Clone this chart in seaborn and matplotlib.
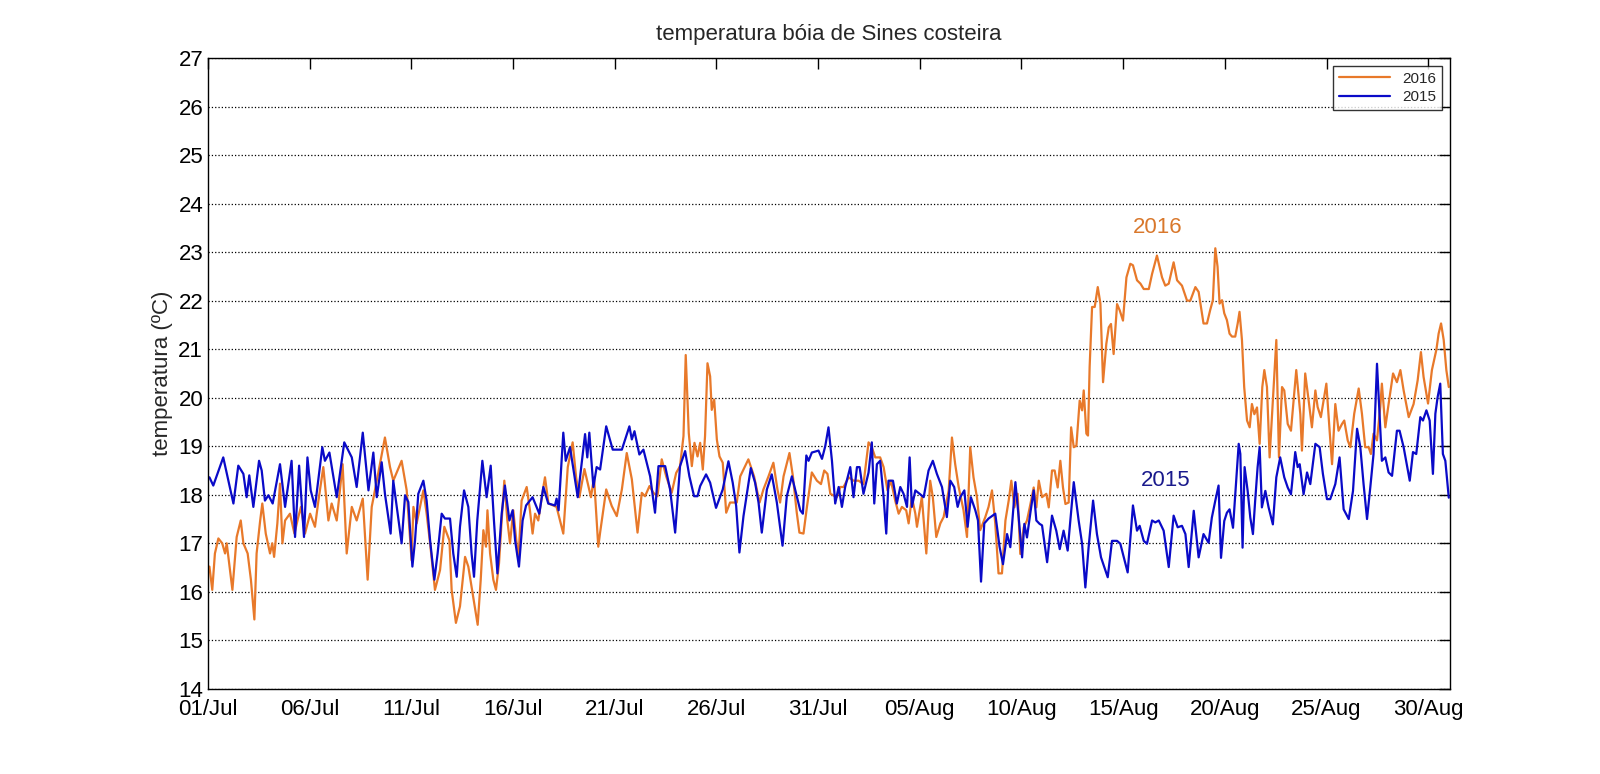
import numpy as np
import pandas as pd
import matplotlib
matplotlib.use("Agg")
import matplotlib.pyplot as plt
import matplotlib.dates as mdates
import seaborn as sns

# days since 01/Jul and temperature (ºC)
dias_2016 = [0.07, 0.21, 0.34, 0.51, 0.70, 0.84, 0.92, 1.20, 1.41, 1.61, 1.74, 1.95, 2.11, 2.28, 2.39,
             2.56, 2.67, 2.84, 3.05, 3.16, 3.25, 3.41, 3.54, 3.66, 3.79, 4.03, 4.25, 4.44, 4.57, 4.77,
             5.02, 5.26, 5.43, 5.67, 5.92, 6.08, 6.33, 6.62, 6.82, 7.07, 7.31, 7.61, 7.85, 8.05, 8.30,
             8.70, 8.95, 9.11, 9.52,
             9.77, 10.01, 10.10, 10.26, 10.59, 10.75, 10.92, 11.16, 11.41, 11.62, 11.87, 11.98, 12.19,
             12.39, 12.64, 12.80, 13.01, 13.26, 13.41, 13.54, 13.67, 13.74, 13.87, 14.03, 14.16, 14.31,
             14.44, 14.57, 14.72, 14.85, 15.01, 15.26, 15.42, 15.67, 15.83, 15.96, 16.08, 16.24, 16.49,
             16.57, 16.74, 17.14, 17.47, 17.69, 17.93, 18.10, 18.26, 18.51, 18.83, 18.98, 19.19,
             19.28, 19.58, 19.85, 20.10, 20.35, 20.59, 20.84, 21.12, 21.33, 21.49, 21.71, 21.90, 22.10,
             22.31, 22.53, 22.80, 23.02, 23.21, 23.38, 23.49, 23.57, 23.64, 23.79, 23.92, 24.07, 24.20,
             24.33, 24.44, 24.56, 24.69, 24.77, 24.89, 25.02, 25.15, 25.31, 25.48, 25.67, 26.00, 26.17,
             26.57, 26.85, 27.12, 27.31, 27.56, 27.80, 28.00, 28.13, 28.30, 28.59, 28.76, 28.95, 29.08,
             29.28, 29.45, 29.69, 29.94, 30.14, 30.30, 30.46, 30.60, 30.92, 31.09, 31.25, 31.50, 31.74,
             31.99, 32.23, 32.48, 32.64, 32.81, 33.05, 33.22, 33.41, 33.58, 33.79, 33.96, 34.12, 34.33,
             34.45, 34.61, 34.78, 34.86, 35.10, 35.32, 35.51, 35.64, 35.81, 36.01, 36.17, 36.42, 36.58,
             36.74, 36.91, 37.15, 37.32, 37.48, 37.64, 37.81, 37.97, 38.22, 38.38, 38.55, 38.71, 38.87,
             39.04, 39.21, 39.37, 39.50, 39.65, 39.81, 39.94, 40.11, 40.27, 40.44, 40.60, 40.73, 40.85,
             41.01, 41.22, 41.34, 41.50, 41.63, 41.78, 41.91, 42.04, 42.16, 42.32, 42.44, 42.57, 42.70,
             42.86, 42.98, 43.06, 43.19, 43.27, 43.35, 43.47, 43.60, 43.75, 43.88, 44.01, 44.17, 44.29,
             44.40, 44.53, 44.70, 44.83, 44.99, 45.16, 45.35, 45.48, 45.68, 45.85, 46.01, 46.26, 46.42,
             46.66, 46.91, 47.07, 47.24, 47.48, 47.65, 47.89, 48.14, 48.30, 48.55, 48.71,
             48.95, 49.12, 49.28, 49.41, 49.53, 49.64, 49.74, 49.86, 49.97, 50.10, 50.23, 50.35, 50.51,
             50.63, 50.72, 50.84, 50.95, 51.09, 51.22, 51.33, 51.45, 51.58, 51.71, 51.84, 51.94, 52.07,
             52.20, 52.36, 52.53, 52.66, 52.81, 52.92, 53.09, 53.25, 53.51, 53.71, 53.79, 53.95, 54.12,
             54.28, 54.45, 54.56, 54.72, 54.99, 55.15, 55.27, 55.43, 55.59, 55.76, 55.87, 56.04, 56.17,
             56.36, 56.58, 56.74, 56.90, 57.07, 57.18, 57.31, 57.48, 57.64, 57.72, 57.89, 58.05, 58.27,
             58.46, 58.63, 58.79, 59.04, 59.28, 59.48, 59.64, 59.77, 59.99, 60.18, 60.40, 60.51, 60.63,
             60.76, 60.89, 61.01]
temp_2016 = [16.52, 16.04, 16.79, 17.10, 17.00, 16.79, 17.00, 16.04, 17.13, 17.47, 17.00, 16.79, 16.25, 15.43, 16.79,
             17.45, 17.82, 17.20, 16.79, 17.00, 16.72, 17.41, 18.23, 17.00, 17.47, 17.61, 17.20, 17.54, 17.75, 17.20,
             17.61, 17.34, 17.88, 18.57, 17.47, 17.82, 17.47, 18.63, 16.79, 17.75, 17.47, 17.92, 16.25, 17.75, 18.29,
             19.18, 18.57, 18.29, 18.70,
             18.09, 16.65, 17.75, 17.41, 18.09, 17.61, 17.00, 16.04, 16.45, 17.34, 17.06, 16.04, 15.36,
             15.70, 16.72, 16.52, 15.97, 15.32, 16.25, 17.27, 16.93, 17.68, 16.79, 16.25, 16.04, 16.59,
             17.47, 18.29, 17.47, 17.00, 17.68, 16.65, 17.88, 18.16, 17.68, 17.20, 17.61, 17.47, 18.16,
             18.36, 17.82, 17.75, 17.20, 18.57, 19.08, 18.36, 17.95, 18.53, 17.95, 18.36, 16.93,
             17.22, 18.11, 17.77, 17.56, 18.11, 18.86, 18.32, 17.22, 18.04, 17.97, 18.18, 18.04, 17.97,
             18.73, 18.38, 18.04, 18.45, 18.59, 19.21, 20.88, 20.03, 19.27, 18.59, 19.07, 18.79, 19.07,
             18.52, 19.21, 20.71, 20.44, 19.75, 19.96, 19.14, 18.79, 18.66, 17.63, 17.84, 17.84, 18.38,
             18.73, 18.38, 17.84, 18.11, 18.38, 18.66, 18.11, 17.84, 18.38, 18.86, 18.38, 17.63, 17.22,
             17.20, 17.75, 18.46, 18.29, 18.22, 18.50, 18.43, 18.02, 17.95, 18.16, 18.16, 18.36, 18.29,
             18.29, 18.22, 19.08, 18.98, 18.77, 18.77, 18.57, 18.09, 18.29, 17.88, 17.61, 17.75, 17.68,
             17.41, 17.95, 17.61, 17.34, 17.95, 16.79, 18.29, 17.95, 17.13, 17.41, 17.54, 18.09, 19.18,
             18.63, 18.16, 17.68, 17.13, 18.98, 18.36, 17.95, 17.27, 17.54, 17.75, 18.09, 17.41, 16.38,
             16.38, 17.47, 17.88, 18.29, 17.74, 18.02, 16.78, 17.33, 17.47, 17.81, 18.15, 17.74, 18.29,
             17.95, 18.02, 17.74, 18.50, 18.50, 18.15, 18.70, 18.15, 17.81, 17.84, 19.39, 18.98, 19.01,
             19.94, 19.74, 20.15, 19.26, 19.22, 20.63, 21.87, 21.87, 22.28, 21.94, 20.32, 21.11, 21.45,
             21.52, 20.90, 21.93, 21.80, 21.59, 22.48, 22.76, 22.73, 22.42, 22.35, 22.24, 22.24, 22.55,
             22.93, 22.48, 22.31, 22.35, 22.79, 22.42, 22.31, 22.00, 22.00, 22.28, 22.18,
             21.53, 21.53, 21.81, 22.01, 23.08, 22.70, 21.94, 22.01, 21.74, 21.60, 21.32, 21.26, 21.26,
             21.53, 21.77, 21.19, 20.22, 19.53, 19.39, 19.87, 19.66, 19.80, 19.05, 20.22, 20.57, 20.22,
             18.77, 19.94, 21.19, 18.77, 20.22, 20.15, 19.46, 19.32, 20.57, 19.66, 18.91, 20.50, 19.94,
             19.39, 20.15, 19.81, 19.60, 20.29, 19.32, 18.63, 19.87, 19.32, 19.46, 19.53, 19.12, 18.98,
             19.67, 20.19, 19.67, 18.98, 18.98, 18.84, 19.26, 19.12, 19.81, 20.29, 19.39, 19.87, 20.50,
             20.32, 20.57, 20.15, 19.60, 19.87, 20.36, 20.94, 20.43, 19.88, 20.57, 20.99, 21.32, 21.53,
             21.19, 20.57, 20.22]

dias_2015 = [0.07, 0.26, 0.75, 1.25, 1.49, 1.74, 1.90, 2.03, 2.23, 2.51, 2.64, 2.80, 2.97, 3.18, 3.54,
             3.79, 4.11, 4.28, 4.48, 4.72, 4.89, 5.05, 5.26, 5.62, 5.75, 5.97, 6.33, 6.70, 7.07, 7.31,
             7.61, 7.89, 8.13, 8.30, 8.54, 8.70, 8.98, 9.11, 9.52, 9.69, 9.85, 10.05,
             10.18, 10.34, 10.59, 10.75, 10.92, 11.13, 11.29, 11.49, 11.65, 11.90, 12.06, 12.23, 12.39,
             12.59, 12.80, 12.96, 13.08, 13.24, 13.49, 13.70, 13.90, 14.06, 14.23, 14.44, 14.60, 14.82,
             14.98, 15.10, 15.29, 15.47, 15.64, 15.96, 16.29, 16.49, 16.73, 17.06, 17.14, 17.24, 17.47,
             17.59, 17.80, 17.93, 18.18, 18.33, 18.54, 18.65, 18.75, 18.95, 19.11,
             19.28, 19.58, 19.90, 20.35, 20.72, 20.84, 20.97, 21.21, 21.41, 21.74, 21.98, 22.15, 22.48,
             22.72, 22.97, 23.21, 23.46, 23.67, 23.90, 24.07, 24.20, 24.49, 24.69, 24.98, 25.31, 25.59,
             25.80, 25.97, 26.13, 26.33, 26.69, 26.90, 27.07, 27.23, 27.48, 27.72, 27.97, 28.25, 28.46,
             28.71, 28.95,
             29.12, 29.25, 29.42, 29.53, 29.69, 30.02, 30.19, 30.35, 30.51, 30.68, 30.84, 31.01, 31.17,
             31.33, 31.58, 31.74, 31.91, 32.04, 32.23, 32.48, 32.64, 32.76, 32.89, 33.05, 33.22, 33.35,
             33.46, 33.68, 33.87, 34.04, 34.20, 34.37, 34.50, 34.61, 34.78, 34.99, 35.19, 35.43, 35.64,
             35.84, 36.09, 36.33, 36.50, 36.69, 36.86, 36.99, 37.19, 37.35, 37.51, 37.73, 37.86, 38.01,
             38.17, 38.38, 38.71, 38.92,
             39.09, 39.29, 39.45, 39.70, 39.86, 40.03, 40.14, 40.27, 40.44, 40.60, 40.73, 40.89, 41.01,
             41.26, 41.50, 41.71, 41.88, 42.07, 42.27, 42.57, 42.81, 42.98, 43.14, 43.30, 43.52, 43.71,
             43.91, 44.24, 44.45, 44.70, 44.86, 45.03, 45.22, 45.48, 45.68, 45.81, 46.01, 46.17, 46.42,
             46.58, 46.75, 46.99, 47.24, 47.48, 47.68, 47.89, 48.06, 48.22, 48.47, 48.71,
             48.95, 49.20, 49.36, 49.53, 49.69, 49.81, 49.97, 50.10, 50.23, 50.40, 50.51, 50.68, 50.76,
             50.87, 50.97, 51.12, 51.25, 51.38, 51.49, 51.61, 51.71, 51.82, 51.99, 52.15, 52.36, 52.53,
             52.72, 52.92, 53.09, 53.25, 53.46, 53.58, 53.68, 53.87, 54.04, 54.20, 54.45, 54.66, 54.82,
             55.02, 55.18, 55.43, 55.64, 55.84, 56.09, 56.30, 56.50, 56.66, 56.82, 56.99, 57.15, 57.31,
             57.48, 57.61, 57.72, 57.89, 58.05, 58.22, 58.46, 58.59, 58.79, 59.09, 59.25, 59.41, 59.61,
             59.74, 59.91, 60.07, 60.23, 60.35, 60.46, 60.59, 60.72, 60.84, 61.01]
temp_2015 = [18.36, 18.19, 18.77, 17.82, 18.60, 18.43, 17.95, 18.40, 17.75, 18.70, 18.50, 17.88, 17.99, 17.82, 18.63,
             17.75, 18.70, 17.13, 18.60, 17.13, 18.77, 18.09, 17.75, 18.98, 18.70, 18.87, 17.95, 19.08, 18.77, 18.16,
             19.28, 18.09, 18.87, 17.95, 18.67, 18.02, 17.20, 18.29, 17.00, 17.99, 17.85, 16.52,
             17.06, 18.02, 18.29, 17.88, 17.06, 16.25, 16.79, 17.61, 17.51, 17.51, 16.79, 16.31, 17.34,
             18.09, 17.75, 16.79, 16.31, 17.47, 18.70, 17.95, 18.60, 17.47, 16.38, 17.61, 18.19, 17.47,
             17.68, 17.06, 16.52, 17.47, 17.78, 17.95, 17.61, 18.16, 17.82, 17.78, 17.92, 17.68, 19.28,
             18.70, 18.98, 18.63, 17.95, 18.50, 19.25, 18.77, 19.28, 18.16, 18.57,
             18.52, 19.41, 18.93, 18.93, 19.41, 19.14, 19.31, 18.83, 18.93, 18.38, 17.63, 18.59, 18.59,
             18.11, 17.22, 18.59, 18.90, 18.38, 17.97, 17.97, 18.18, 18.42, 18.25, 17.73, 18.11, 18.69,
             18.25, 17.77, 16.81, 17.56, 18.55, 18.25, 17.84, 17.22, 18.11, 18.42, 17.84, 16.95, 17.97,
             18.38, 17.97,
             17.68, 17.61, 18.81, 18.70, 18.87, 18.91, 18.74, 19.00, 19.39, 18.70, 17.82, 18.16, 17.75,
             18.16, 18.57, 17.95, 18.57, 18.57, 18.02, 18.46, 19.08, 17.82, 18.63, 18.70, 17.95, 17.20,
             18.29, 18.29, 17.82, 18.16, 18.02, 17.75, 18.77, 17.75, 18.09, 18.02, 17.95, 18.50, 18.70,
             18.43, 18.16, 17.54, 18.29, 18.16, 17.75, 17.95, 18.09, 17.34, 17.95, 17.68, 17.47, 16.21,
             17.41, 17.51, 17.61, 16.93,
             16.57, 17.19, 16.92, 18.26, 17.54, 16.71, 17.40, 17.12, 17.64, 18.09, 17.47, 17.40, 17.37,
             16.61, 17.57, 17.26, 16.88, 17.26, 16.85, 18.26, 17.47, 16.99, 16.09, 16.92, 17.88, 17.19,
             16.71, 16.30, 17.05, 17.05, 16.99, 16.71, 16.40, 17.78, 17.26, 17.36, 17.05, 16.99, 17.47,
             17.43, 17.47, 17.26, 16.51, 17.57, 17.33, 17.36, 17.19, 16.51, 17.67, 16.71,
             17.19, 17.01, 17.53, 17.88, 18.19, 16.70, 17.46, 17.63, 17.70, 17.32, 18.01, 19.05, 18.84,
             16.91, 18.57, 18.08, 17.53, 17.19, 17.88, 18.57, 18.98, 17.74, 18.08, 17.74, 17.39, 18.36,
             18.77, 18.36, 18.15, 18.01, 18.88, 18.57, 18.63, 18.01, 18.46, 18.22, 19.05, 18.98, 18.43,
             17.91, 17.91, 18.22, 18.77, 17.70, 17.50, 18.08, 19.36, 18.98, 18.22, 17.50, 18.15, 18.84,
             20.70, 19.60, 18.70, 18.77, 18.46, 18.39, 19.32, 19.32, 18.98, 18.29, 18.88, 18.84, 19.60,
             19.53, 19.74, 19.53, 18.43, 19.67, 20.01, 20.29, 18.84, 18.70, 17.94]

anos = ['2016', '2015']
cores = {'2016': '#E8792A', '2015': '#0A0AC8'}
ticks_datas = ['01/07', '06/07', '11/07', '16/07', '21/07', '26/07', '31/07',
               '05/08', '10/08', '15/08', '20/08', '25/08', '30/08']

inicio = pd.Timestamp('2016-07-01')
df = pd.concat([
    pd.DataFrame({'data': inicio + pd.to_timedelta(dias_2016, unit='D'), 'temp': temp_2016, 'ano': '2016'}),
    pd.DataFrame({'data': inicio + pd.to_timedelta(dias_2015, unit='D'), 'temp': temp_2015, 'ano': '2015'}),
])

sns.set_style('white')
plt.rcParams['font.family'] = ['Liberation Sans', 'DejaVu Sans']

fig = plt.figure(figsize=(16, 7.74), dpi=100)
ax = fig.add_axes([0.13, 0.11, 0.776, 0.815])

sns.lineplot(data=df, x='data', y='temp', hue='ano', hue_order=anos, palette=cores,
             estimator=None, sort=False, linewidth=1.6, ax=ax)

ax.set_xlim(inicio, inicio + pd.Timedelta(days=61.05))
ax.set_ylim(14, 27)
ax.set_yticks(range(14, 28))
ax.set_xticks(pd.to_datetime([d + '/2016' for d in ticks_datas], format='%d/%m/%Y'))
ax.xaxis.set_major_formatter(mdates.DateFormatter('%d/%b'))
ax.tick_params(axis='both', direction='in', length=8, width=1, labelsize=16,
               top=True, right=True, colors='black')
ax.tick_params(axis='x', pad=7)
ax.yaxis.grid(True, linestyle=':', color='black', linewidth=0.9)
ax.xaxis.grid(False)
for s in ax.spines.values():
    s.set_color('black')
    s.set_linewidth(1)

ax.set_title('temperatura bóia de Sines costeira', fontsize=16, pad=13)
ax.set_xlabel('')
ax.set_ylabel('temperatura (ºC)', fontsize=16, labelpad=4)

ax.text(inicio + pd.Timedelta(days=46.7), 23.5, '2016', color='#D9782C', fontsize=16, ha='center', va='center')
ax.text(inicio + pd.Timedelta(days=47.1), 18.3, '2015', color='#1A1A8C', fontsize=16, ha='center', va='center')

leg = ax.legend(loc='upper right', fontsize=11, handlelength=3.3, frameon=True,
                fancybox=False, edgecolor='black', borderaxespad=0.5, labelspacing=0.3)
leg.get_frame().set_linewidth(1)
leg.set_title(None)

fig.savefig('out.png', dpi=100)
